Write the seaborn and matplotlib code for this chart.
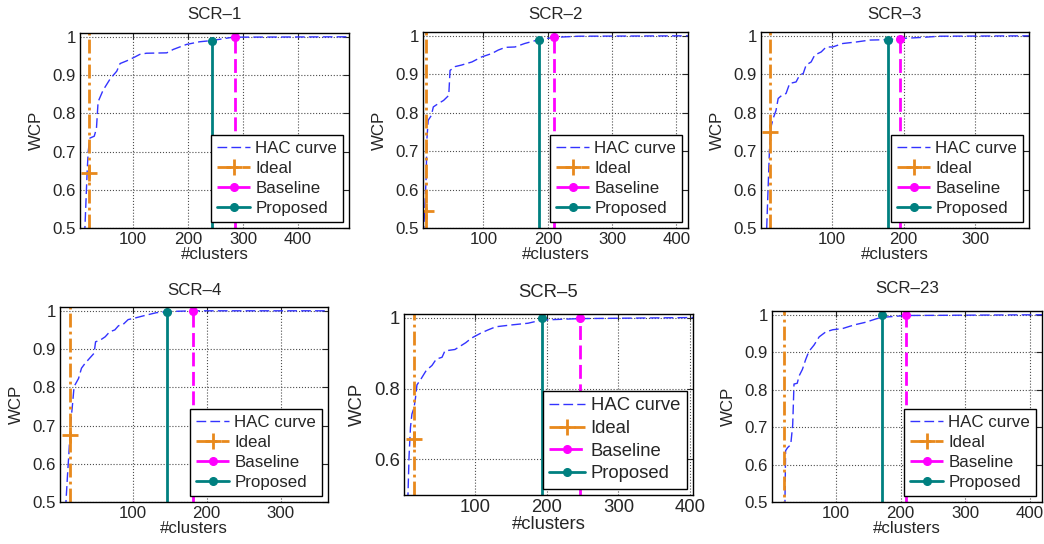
import numpy as np
import pandas as pd
import seaborn as sns
from matplotlib import pyplot as plt
from matplotlib.ticker import FormatStrFormatter

# panel titles
titles = ["SCR–1", "SCR–2", "SCR–3", "SCR–4", "SCR–5", "SCR–23"]

# HAC curves (#clusters, WCP)
scr1_k = [11, 12, 14, 16, 18, 21, 29, 33, 36, 45, 58, 70, 76, 88, 100, 112, 124,
          161, 173, 197, 221, 242, 282, 493]
scr1_wcp = [0.48, 0.5, 0.572, 0.645, 0.70, 0.735, 0.74, 0.76, 0.83, 0.86, 0.89, 0.91,
            0.93, 0.937, 0.945, 0.954, 0.957, 0.958, 0.967, 0.98, 0.987, 0.99, 0.999, 1.0]

scr2_k = [6, 7, 9, 11, 12, 14, 19, 22, 30, 38, 46, 48, 56, 66, 82, 97, 113, 123,
          134, 149, 164, 186, 210, 248, 418]
scr2_wcp = [0.48, 0.5, 0.555, 0.64, 0.73, 0.78, 0.793, 0.815, 0.824, 0.832, 0.845,
            0.91, 0.92, 0.924, 0.932, 0.945, 0.954, 0.963, 0.97, 0.971, 0.98, 0.99,
            0.996, 0.999, 1.0]

scr3_k = [9, 11, 13, 15, 18, 22, 25, 30, 36, 41, 50, 55, 60, 64, 71, 76, 85, 92,
          101, 115, 134, 153, 178, 195, 227, 250, 375]
scr3_wcp = [0.5, 0.607, 0.711, 0.763, 0.785, 0.806, 0.837, 0.845, 0.85, 0.876, 0.88,
            0.898, 0.902, 0.924, 0.932, 0.95, 0.958, 0.971, 0.971, 0.98, 0.984, 0.989,
            0.99, 0.993, 0.996, 0.999, 1.0]

scr4_k = [9, 10, 12, 14, 16, 19, 21, 27, 31, 36, 42, 48, 50, 56, 63, 69, 76, 81,
          87, 94, 105, 119, 132, 146, 182, 364]
scr4_wcp = [0.48, 0.5, 0.567, 0.628, 0.697, 0.758, 0.802, 0.823, 0.85, 0.863, 0.876,
            0.889, 0.919, 0.923, 0.932, 0.945, 0.95, 0.961, 0.964, 0.977, 0.982,
            0.989, 0.995, 0.998, 1.0, 1.0]

scr5_k = [6, 6.5, 8, 10, 12, 15, 17, 19, 25, 32, 40, 46, 54, 58, 72, 87, 95, 108,
          118, 129, 150, 174, 193, 246, 404]
scr5_wcp = [0.48, 0.5, 0.609, 0.691, 0.728, 0.746, 0.774, 0.81, 0.828, 0.851, 0.865,
            0.883, 0.888, 0.906, 0.91, 0.929, 0.942, 0.956, 0.965, 0.974, 0.979,
            0.984, 0.993, 0.997, 1.0]

scr23_k = [20, 21, 22, 25, 28, 30, 33, 35, 40, 43, 48, 53, 58, 66, 74, 84, 95, 110,
           121, 131, 146, 162, 171, 208, 419]
scr23_wcp = [0.48, 0.5, 0.637, 0.645, 0.65, 0.654, 0.706, 0.815, 0.817, 0.837, 0.854,
             0.88, 0.902, 0.919, 0.941, 0.954, 0.96, 0.963, 0.969, 0.974, 0.98, 0.989,
             0.993, 0.998, 1.0]

hac_k = [scr1_k, scr2_k, scr3_k, scr4_k, scr5_k, scr23_k]
hac_wcp = [scr1_wcp, scr2_wcp, scr3_wcp, scr4_wcp, scr5_wcp, scr23_wcp]

# operating points (#clusters, WCP)
ideal_k = [19, 11, 13.5, 16, 15, 19]
ideal_wcp = [0.645, 0.545, 0.75, 0.675, 0.657, 0.45]
baseline_k = [286, 210, 195, 182, 246, 208]
baseline_wcp = [0.999, 0.997, 0.993, 1.0, 0.999, 0.999]
proposed_k = [243, 186, 178, 147, 193, 171]
proposed_wcp = [0.99, 0.99, 0.99, 0.998, 0.998, 0.999]

# axis ranges
x_lims = [(3, 493), (6, 418), (1, 375), (2, 364), (1, 404), (1, 419)]
y_lim = (0.5, 1.01)
x_ticks = [100, 200, 300, 400]
y_ticks = [[0.5, 0.6, 0.7, 0.8, 0.9, 1.0]] * 4 + [[0.6, 0.8, 1.0]] + [[0.5, 0.6, 0.7, 0.8, 0.9, 1.0]]

# axes boxes in figure fractions
boxes = [
    [0.0766, 0.5809, 0.2577, 0.3585],
    [0.4052, 0.5809, 0.2538, 0.3603],
    [0.7289, 0.5809, 0.2567, 0.3603],
    [0.0575, 0.0772, 0.2567, 0.3585],
    [0.3870, 0.0901, 0.2768, 0.3327],
    [0.7395, 0.0772, 0.2586, 0.3511],
]
title_pads = [10, 9.4, 9.4, 8.6, 12, 13]
font_sizes = [12.2, 12.2, 12.2, 12.2, 13.3, 12.2]

c_hac = "#3333ff"
c_ideal = "#e8891c"
c_base = "#ff00ff"
c_prop = "#008080"

sns.set_style("white")
plt.rcParams["font.family"] = ["Liberation Sans", "DejaVu Sans"]

fig = plt.figure(figsize=(10.44, 5.44), dpi=100)

for i in range(6):
    ax = fig.add_axes(boxes[i])
    fs = font_sizes[i]
    lo, hi = y_lim

    curve = pd.DataFrame({"k": hac_k[i], "wcp": hac_wcp[i]})
    sns.lineplot(data=curve, x="k", y="wcp", ax=ax, estimator=None, sort=False,
                 legend=False, color=c_hac, linewidth=1.0,
                 linestyle=(0, (7, 3)), label="HAC curve")

    ideal = pd.DataFrame({"k": [ideal_k[i]] * 3, "wcp": [lo, ideal_wcp[i], hi]})
    sns.lineplot(data=ideal, x="k", y="wcp", ax=ax, estimator=None, sort=False,
                 legend=False, color=c_ideal, linewidth=2.0,
                 linestyle=(0, (5, 1.5, 1, 1.5)), marker="+", markevery=[1],
                 markersize=11, markeredgewidth=2, markeredgecolor=c_ideal,
                 label="Ideal")

    base = pd.DataFrame({"k": [baseline_k[i]] * 2, "wcp": [lo, baseline_wcp[i]]})
    sns.lineplot(data=base, x="k", y="wcp", ax=ax, estimator=None, sort=False,
                 legend=False, color=c_base, linewidth=2.0,
                 linestyle=(0, (5, 2)), marker="o", markevery=[1],
                 markersize=5.5, markeredgewidth=1, markeredgecolor=c_base,
                 label="Baseline")

    prop = pd.DataFrame({"k": [proposed_k[i]] * 2, "wcp": [lo, proposed_wcp[i]]})
    sns.lineplot(data=prop, x="k", y="wcp", ax=ax, estimator=None, sort=False,
                 legend=False, color=c_prop, linewidth=2.0, linestyle="-",
                 marker="o", markevery=[1], markersize=5.5, markeredgewidth=1,
                 markeredgecolor=c_prop, label="Proposed")

    ax.set_xlim(*x_lims[i])
    ax.set_ylim(lo, hi)
    ax.set_xticks([t for t in x_ticks if x_lims[i][0] <= t <= x_lims[i][1]])
    ax.set_yticks(y_ticks[i])
    ax.yaxis.set_major_formatter(FormatStrFormatter("%g"))
    ax.grid(True, linestyle=":", color="0.3", linewidth=0.8)
    ax.tick_params(direction="in", top=True, right=True, length=4, width=0.8,
                   labelsize=fs, pad=3)
    for s in ax.spines.values():
        s.set_color("black")
        s.set_linewidth(1.0)

    ax.set_title(titles[i], fontsize=fs, pad=title_pads[i])
    ax.set_xlabel("#clusters", fontsize=fs, labelpad=0)
    ax.set_ylabel("WCP", fontsize=fs, labelpad=6)

    ax.legend(loc="lower right", fontsize=fs, frameon=True, fancybox=False,
              edgecolor="black", framealpha=1, borderpad=0.35,
              labelspacing=0.3, handlelength=1.95, handletextpad=0.3,
              borderaxespad=0.35)

plt.savefig("out.png", dpi=100)
